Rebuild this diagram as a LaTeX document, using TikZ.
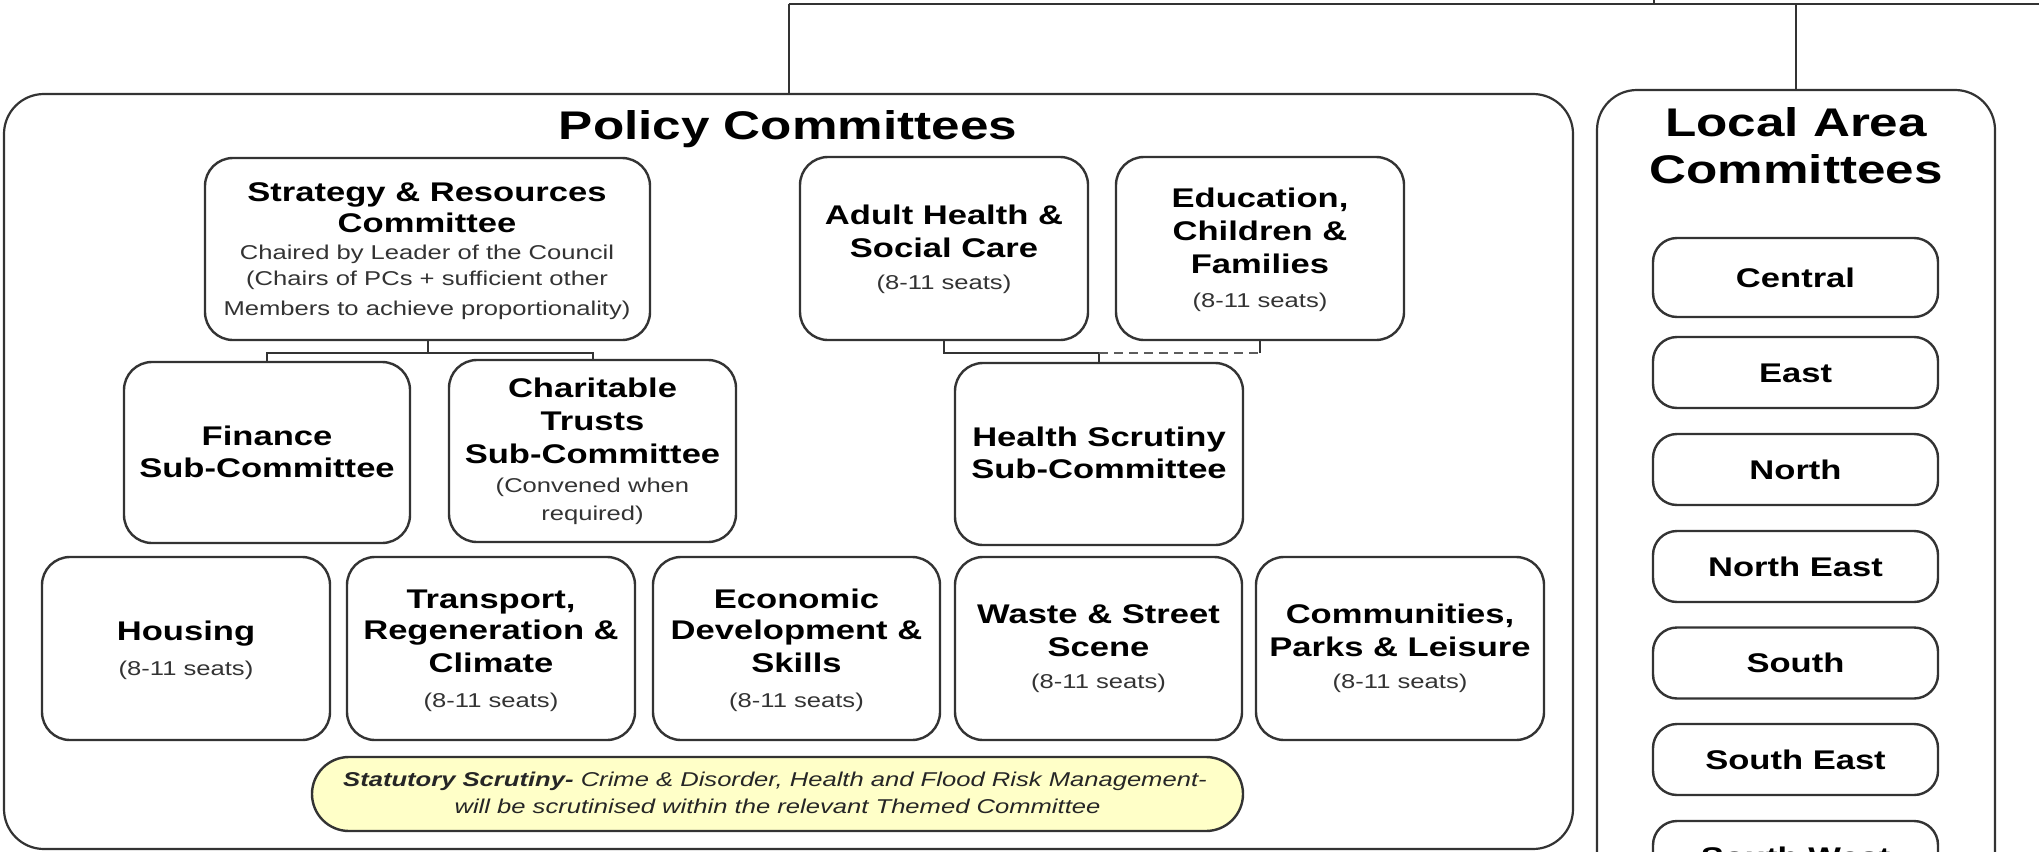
\documentclass[tikz,border=0pt]{standalone}
\usepackage{fontspec}
\setmainfont{Liberation Sans}[FakeStretch=1.28]
\definecolor{edge}{HTML}{333333}
\definecolor{smalltext}{HTML}{333333}
\definecolor{notefill}{HTML}{FFFFC8}
\tikzset{
  x=1pt, y=-1pt,
  outerbox/.style={draw=edge, line width=2.2pt, rounded corners=40pt, inner sep=0pt},
  box/.style={draw=edge, line width=2.4pt, rounded corners=28pt, fill=white, inner sep=0pt,
              minimum width=288, minimum height=183},
  areabox/.style={draw=edge, line width=2.4pt, rounded corners=24pt, fill=white, inner sep=0pt,
              minimum width=285, minimum height=71, text height=19.5pt, text depth=0pt,
              font=\fontsize{27}{31}\selectfont\bfseries},
  hd/.style={anchor=base, inner sep=0pt, font=\fontsize{27}{31}\selectfont\bfseries},
  sm/.style={anchor=base, inner sep=0pt, text=smalltext, font=\fontsize{20}{26}\selectfont},
  ttl/.style={anchor=base, inner sep=0pt, font=\fontsize{40}{46}\selectfont\bfseries},
  it/.style={anchor=base, inner sep=0pt, text=black!85, font=\fontsize{20}{26}\selectfont\itshape},
  link/.style={draw=edge, line width=2pt},
}
\begin{document}
\begin{tikzpicture}
\useasboundingbox (0,0) rectangle (2039,851);
\clip (0,0) rectangle (2039,851);
\fill[white] (0,0) rectangle (2039,851);

% outer containers
\node[outerbox, minimum width=1569, minimum height=755] (policy) at (788.5,471.5) {};
\node[outerbox, minimum width=398, minimum height=840] (local) at (1796,510) {};

% top connectors
\coordinate (j1) at (788.5,4);
\coordinate (edgeR) at (2039,4);
\coordinate (tickT) at (1654,0);
\coordinate (tickB) at (1654,4);
\draw[link] (j1) -- (edgeR);
\draw[link] (tickT) -- (tickB);
\draw[link] (j1) -- (policy.north);
\draw[link] (local.north |- j1) -- (local.north);

% titles
\node[ttl] (ptitle) at (788,139.3) {Policy Committees};
\node[ttl] (lt1) at (1796,136) {Local Area};
\node[ttl] (lt2) at (1796,183) {Committees};

% boxes
\node[box, minimum width=445, minimum height=182] (sr) at (427.5,249) {};
\node[box, minimum width=286, minimum height=181] (fin) at (267,452.5) {};
\node[box, minimum width=287, minimum height=182] (cht) at (592.5,451) {};
\node[box] (ahsc) at (944,248.5) {};
\node[box] (ecf) at (1260,248.5) {};
\node[box, minimum height=182] (hss) at (1099,454) {};
\node[box] (hou) at (186,648.5) {};
\node[box] (trc) at (491,648.5) {};
\node[box, minimum width=287] (eds) at (796.5,648.5) {};
\node[box, minimum width=287] (wss) at (1098.5,648.5) {};
\node[box] (cpl) at (1400,648.5) {};
\node[draw=edge, line width=2.4pt, fill=notefill, rounded corners=37pt, inner sep=0pt,
      minimum width=931, minimum height=74] (stat) at (777.5,794) {};

% connectors
\coordinate (srj) at ([yshift=-12pt]sr.south);
\draw[link] (sr.south) -- (srj);
\draw[link] (fin.north) |- (srj) -| (cht.north);
\coordinate (aj) at ([yshift=-12pt]ahsc.south);
\coordinate (hj) at (hss.north |- aj);
\coordinate (ej) at (ecf.south |- aj);
\draw[link] (ahsc.south) -- (aj) -- (hj) -- (hss.north);
\draw[link, draw=edge!80, dash pattern=on 9pt off 6pt] (hj) -- (ej);
\draw[link] (ej) -- (ecf.south);

% Strategy & Resources
\node[hd] (sr1) at (427,201) {Strategy \& Resources};
\node[hd] (sr2) at (427,232.7) {Committee};
\node[sm] (sr3) at (427,259) {Chaired by Leader of the Council};
\node[sm] (sr4) at (427,285) {(Chairs of PCs + sufficient other};
\node[sm] (sr5) at (427,315) {Members to achieve proportionality)};

% Finance
\node[hd] (fin1) at (267,445) {Finance};
\node[hd] (fin2) at (267,477) {Sub-Committee};

% Charitable Trusts
\node[hd] (cht1) at (592.5,397) {Charitable};
\node[hd] (cht2) at (592.5,430) {Trusts};
\node[hd] (cht3) at (592.5,463) {Sub-Committee};
\node[sm] (cht4) at (592.5,492) {(Convened when};
\node[sm] (cht5) at (592.5,520) {required)};

% Adult Health
\node[hd] (ah1) at (944,224) {Adult Health \&};
\node[hd] (ah2) at (944,257) {Social Care};
\node[sm] (ah3) at (944,289) {(8-11 seats)};

% Education
\node[hd] (ed1) at (1260,207) {Education,};
\node[hd] (ed2) at (1260,240) {Children \&};
\node[hd] (ed3) at (1260,273) {Families};
\node[sm] (ed4) at (1260,307) {(8-11 seats)};

% Health Scrutiny
\node[hd] (hs1) at (1099,446) {Health Scrutiny};
\node[hd] (hs2) at (1099,478) {Sub-Committee};

% bottom row
\node[hd] (ho1) at (186,640) {Housing};
\node[sm] (ho2) at (186,675) {(8-11 seats)};

\node[hd] (tr1) at (491,608) {Transport,};
\node[hd] (tr2) at (491,639) {Regeneration \&};
\node[hd] (tr3) at (491,672) {Climate};
\node[sm] (tr4) at (491,707) {(8-11 seats)};

\node[hd] (ec1) at (796.5,608) {Economic};
\node[hd] (ec2) at (796.5,639) {Development \&};
\node[hd] (ec3) at (796.5,672) {Skills};
\node[sm] (ec4) at (796.5,707) {(8-11 seats)};

\node[hd] (ws1) at (1098.5,623) {Waste \& Street};
\node[hd] (ws2) at (1098.5,656) {Scene};
\node[sm] (ws3) at (1098.5,688) {(8-11 seats)};

\node[hd] (cp1) at (1400,623) {Communities,};
\node[hd] (cp2) at (1400,656) {Parks \& Leisure};
\node[sm] (cp3) at (1400,688) {(8-11 seats)};

% statutory note
\node[it] (st1) at (775,786.7) {{\bfseries Statutory Scrutiny-} Crime \& Disorder, Health and Flood Risk Management-};
\node[it] (st2) at (777.5,813) {will be scrutinised within the relevant Themed Committee};

% local areas
\node[areabox, minimum height=79] (central) at (1795.5,277.5) {Central};
\node[areabox] (east) at (1795.5,372.5) {East};
\node[areabox] (north) at (1795.5,469.5) {North};
\node[areabox] (northeast) at (1795.5,566.5) {North East};
\node[areabox] (south) at (1795.5,663) {South};
\node[areabox] (southeast) at (1795.5,759.5) {South East};
\node[areabox] (southwest) at (1795.5,856.5) {South West};
\end{tikzpicture}
\end{document}
